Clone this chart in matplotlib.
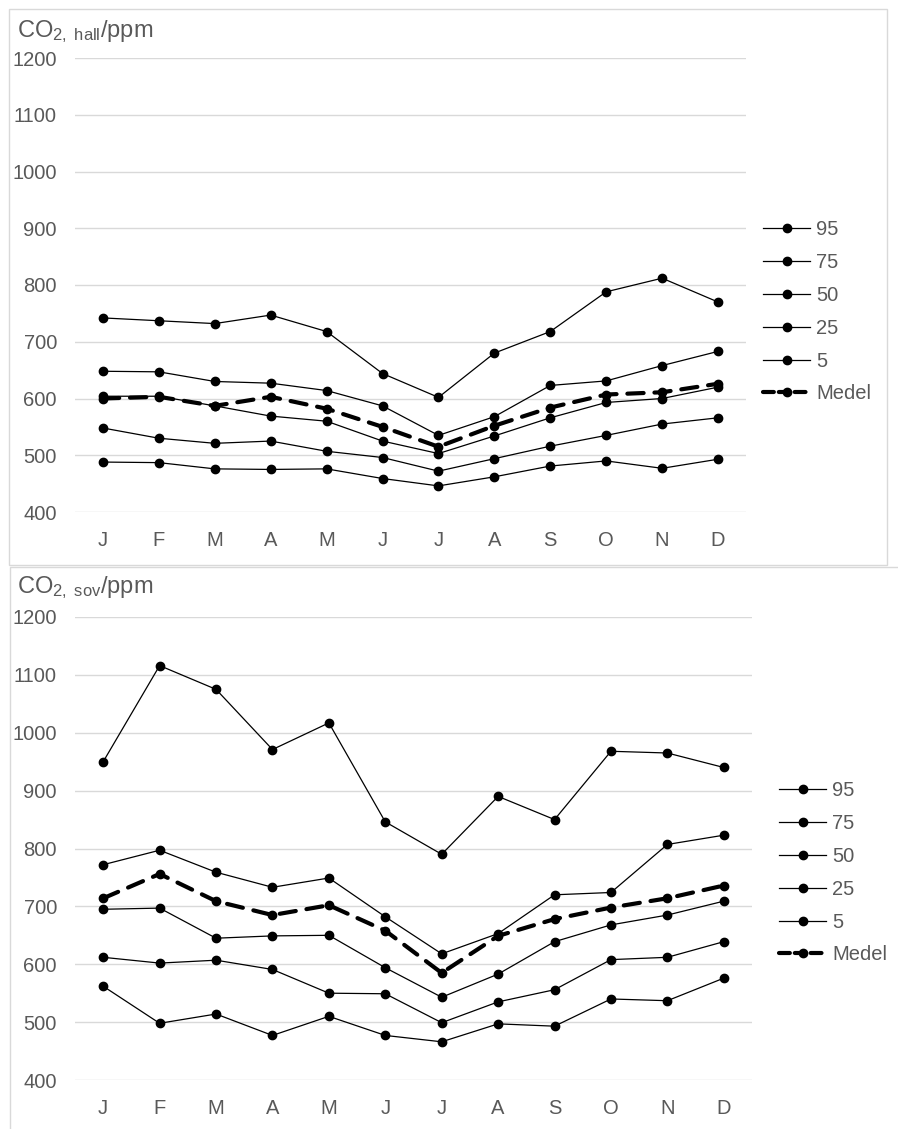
import matplotlib.pyplot as plt
plt.switch_backend('agg')

from matplotlib.patches import Rectangle
from matplotlib.lines import Line2D

plt.rcParams['font.family'] = ['Liberation Sans', 'DejaVu Sans']
plt.rcParams['mathtext.fontset'] = 'custom'
plt.rcParams['mathtext.rm'] = 'Liberation Sans'
plt.rcParams['mathtext.it'] = 'Liberation Sans:italic'
plt.rcParams['mathtext.bf'] = 'Liberation Sans:bold'

months = ['J', 'F', 'M', 'A', 'M', 'J', 'J', 'A', 'S', 'O', 'N', 'D']
labels = ['95', '75', '50', '25', '5', 'Medel']

hall_95 = [742, 737, 732, 747, 718, 644, 602, 680, 718, 788, 812, 770]
hall_75 = [648, 647, 630, 627, 614, 587, 535, 568, 623, 631, 658, 683]
hall_50 = [604, 604, 587, 569, 560, 525, 503, 534, 566, 593, 600, 620]
hall_25 = [548, 530, 521, 525, 507, 496, 472, 494, 516, 535, 555, 566]
hall_5 = [488, 487, 476, 475, 476, 459, 446, 462, 481, 490, 477, 493]
hall_mean = [600, 603, 587, 603, 582, 550, 515, 552, 584, 607, 611, 626]

sov_95 = [950, 1116, 1075, 971, 1017, 846, 790, 890, 850, 968, 965, 940]
sov_75 = [772, 797, 759, 733, 749, 682, 618, 653, 720, 724, 807, 823]
sov_50 = [695, 697, 645, 649, 650, 594, 543, 583, 639, 668, 685, 709]
sov_25 = [612, 602, 607, 591, 550, 549, 499, 535, 556, 608, 612, 639]
sov_5 = [562, 498, 514, 477, 510, 477, 466, 497, 493, 540, 537, 576]
sov_mean = [714, 756, 709, 685, 702, 658, 585, 649, 678, 698, 714, 736]

text_color = '#595959'
grid_color = '#d9d9d9'

W, H = 898, 1129
fig = plt.figure(figsize=(W / 100, H / 100), dpi=100)


def draw_panel(rect, series, mean, title, title_y, legend_xy):
    ax = fig.add_axes(rect)
    x = list(range(len(months)))
    for values in series:
        ax.plot(x, values, color='black', lw=0.9, marker='o', ms=6,
                zorder=3)
    ax.plot(x, mean, color='black', lw=3, ls=(0, (3.9, 2.6)), marker='o',
            ms=6, dash_capstyle='round', zorder=4)
    ax.set_xlim(-0.5, len(months) - 0.5)
    ax.set_ylim(400, 1200)
    ax.set_yticks(range(400, 1201, 100))
    ax.set_xticks(x)
    ax.set_xticklabels(months)
    ax.grid(axis='y', color=grid_color, lw=1)
    ax.set_axisbelow(True)
    for s in ax.spines.values():
        s.set_visible(False)
    ax.tick_params(length=0, labelsize=14.5, labelcolor=text_color)
    ax.tick_params(axis='y', pad=13)
    ax.tick_params(axis='x', pad=14)

    handles = [Line2D([], [], color='black', lw=0.9, marker='o', ms=6)
               for _ in series]
    handles.append(Line2D([], [], color='black', lw=3, ls=(0, (2.6, 1.2)),
                          dash_capstyle='round', marker='o', ms=6))
    leg = ax.legend(handles, labels, loc='upper left',
                    bbox_to_anchor=legend_xy, bbox_transform=fig.transFigure,
                    frameon=False, fontsize=14.5, borderpad=0,
                    borderaxespad=0, handlelength=2.35, handletextpad=0.3,
                    labelspacing=0.69)
    for t in leg.get_texts():
        t.set_color(text_color)

    fig.text(17 / W, 1 - title_y / H, title, fontsize=17, color=text_color,
             va='baseline', ha='left')
    return ax


# panel frames
fig.patches.append(Rectangle((9 / W, 1 - 565 / H), 878 / W, 556 / H,
                             transform=fig.transFigure, fill=False,
                             ec=grid_color, lw=1))
fig.patches.append(Rectangle((10 / W, -0.01), 1.0, (H - 567) / H + 0.01,
                             transform=fig.transFigure, fill=False,
                             ec=grid_color, lw=1))

draw_panel([75 / W, 1 - 512 / H, 671 / W, 454 / H],
           [hall_95, hall_75, hall_50, hall_25, hall_5], hall_mean,
           r'CO$_{\mathrm{2,\ hall}}$/ppm', 37, (763 / W, 1 - 220 / H))

draw_panel([75 / W, 1 - 1080 / H, 677 / W, 463 / H],
           [sov_95, sov_75, sov_50, sov_25, sov_5], sov_mean,
           r'CO$_{\mathrm{2,\ sov}}$/ppm', 593, (779 / W, 1 - 781 / H))

plt.savefig('out.png', dpi=100)
